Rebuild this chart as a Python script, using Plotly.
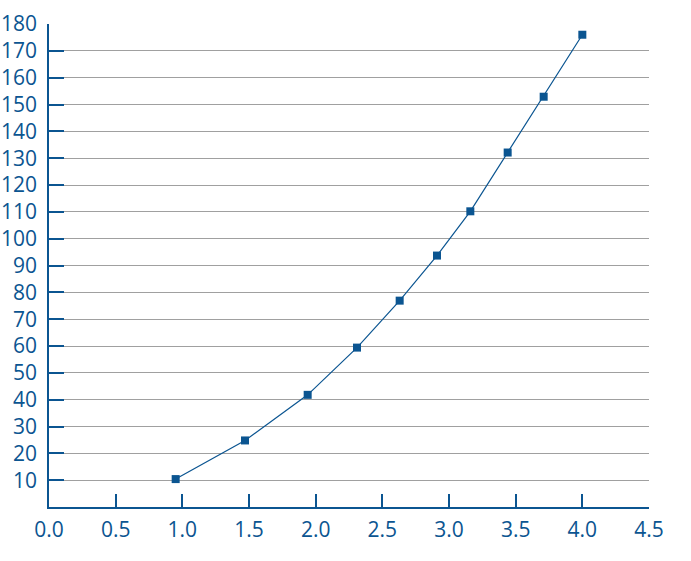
import plotly.graph_objects as go

x_vals = [0.95, 1.47, 1.94, 2.31, 2.63, 2.91, 3.16, 3.44, 3.71, 4.0]
y_vals = [10.4, 24.8, 41.8, 59.4, 76.9, 93.7, 110.2, 132.1, 152.9, 176.0]
x_ticks = [0.0, 0.5, 1.0, 1.5, 2.0, 2.5, 3.0, 3.5, 4.0, 4.5]
x_tick_labels = ["0.0", "0.5", "1.0", "1.5", "2.0", "2.5", "3.0", "3.5", "4.0", "4.5"]
y_ticks = list(range(10, 190, 10))

blue = "#0b5591"
fnt = "Open Sans, sans-serif"
fig = go.Figure()
fig.add_trace(go.Scatter(
    x=x_vals, y=y_vals, mode="lines+markers",
    line=dict(color=blue, width=1.2),
    marker=dict(symbol="square", size=8, color=blue),
    showlegend=False,
))
fig.update_layout(
    width=691, height=561,
    margin=dict(l=49, r=42, t=24, b=54),
    paper_bgcolor="white", plot_bgcolor="white",
    font=dict(family=fnt, size=21, color=blue),
)
fig.update_xaxes(
    range=[0, 4.5], tickvals=x_ticks, ticktext=x_tick_labels,
    showgrid=False, zeroline=False, automargin=False,
    showline=True, linecolor=blue, linewidth=1.5,
    ticks="inside", ticklen=13, tickcolor=blue, tickwidth=1.5,
    tickfont=dict(family=fnt, size=21, color=blue), ticklabelstandoff=3,
)
fig.update_yaxes(
    range=[0, 180], tickvals=y_ticks,
    showgrid=True, gridcolor="#a0a0a0", gridwidth=1.2, zeroline=False,
    automargin=False,
    showline=True, linecolor=blue, linewidth=1.5,
    ticks="inside", ticklen=15, tickcolor=blue, tickwidth=1.5,
    tickfont=dict(family=fnt, size=21, color=blue), ticklabelstandoff=6,
)
fig.write_html("out.html", config={"displayModeBar": False},
               post_script="document.body.style.margin='0';")
